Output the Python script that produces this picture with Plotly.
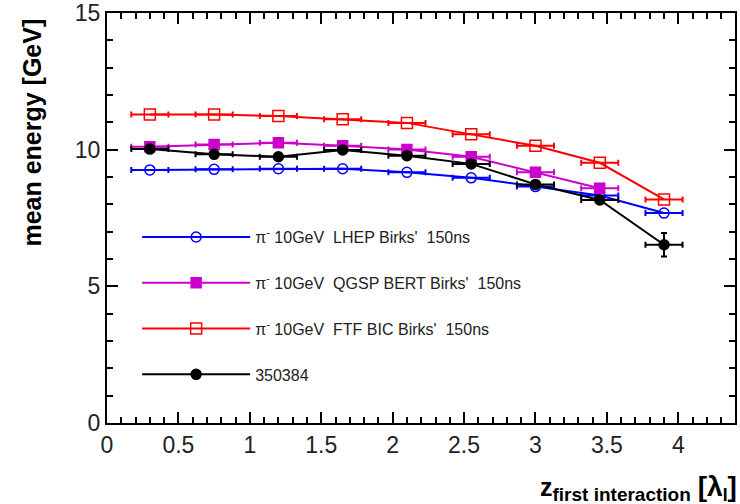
import plotly.graph_objects as go

# ---- data ----
z_first = [0.3, 0.75, 1.2, 1.65, 2.1, 2.55, 3.0, 3.45, 3.9]
z_err = [0.13] * 9

lhep = [9.26, 9.28, 9.30, 9.30, 9.17, 8.97, 8.65, 8.32, 7.68]
qgsp_bert = [10.11, 10.19, 10.25, 10.14, 10.01, 9.74, 9.17, 8.59]
ftf_bic = [11.29, 11.29, 11.23, 11.11, 10.98, 10.56, 10.14, 9.52, 8.18]
run_350384 = [10.02, 9.83, 9.74, 9.99, 9.78, 9.48, 8.73, 8.16, 6.52]
run_350384_err = [0.04, 0.04, 0.04, 0.05, 0.05, 0.06, 0.08, 0.12, 0.43]

names = [
    "π<sup>-</sup> 10GeV\u00a0\u00a0LHEP Birks'\u00a0\u00a0150ns",
    "π<sup>-</sup> 10GeV\u00a0\u00a0QGSP BERT Birks'\u00a0\u00a0150ns",
    "π<sup>-</sup> 10GeV\u00a0\u00a0FTF BIC Birks'\u00a0\u00a0150ns",
    "350384",
]

FONT = "Liberation Sans, Arial, Helvetica, sans-serif"

fig = go.Figure()

def add(y, name, color, symbol, size, yerr=None):
    n = len(y)
    fig.add_trace(go.Scatter(
        x=z_first[:n], y=y, name=name, mode="lines+markers",
        legendgroup=name,
        line=dict(color=color, width=2),
        marker=dict(color=color, symbol=symbol, size=size,
                    line=dict(color=color, width=1.5)),
        error_x=dict(type="data", array=z_err[:n], color=color,
                     thickness=2, width=3),
        error_y=(dict(type="data", array=yerr, color=color, thickness=2, width=3)
                 if yerr is not None else None),
    ))

add(lhep, names[0], "#0000FF", "circle-open", 10)
add(qgsp_bert, names[1], "#CC00CC", "square", 10)
add(ftf_bic, names[2], "#FF0000", "square-open", 11)
add(run_350384, names[3], "#000000", "circle", 10, run_350384_err)

axis_common = dict(
    showline=True, linecolor="black", linewidth=2, mirror="ticks",
    ticks="inside", tickcolor="black", tickwidth=2, ticklen=11,
    showgrid=False, zeroline=False, ticklabeloverflow="allow",
    automargin=False,
    tickfont=dict(family=FONT, size=23, color="#222"),
)

fig.update_layout(
    width=740, height=504,
    margin=dict(l=107, r=5, t=13, b=81, autoexpand=False),
    paper_bgcolor="white", plot_bgcolor="white",
    font=dict(family=FONT, color="black"),
    xaxis=dict(range=[0, 4.397], dtick=0.5, tick0=0,
               minor=dict(dtick=0.1, ticks="inside", ticklen=6,
                          tickcolor="black", tickwidth=2, showgrid=False),
               **axis_common),
    yaxis=dict(range=[0, 15], dtick=5, tick0=0,
               minor=dict(dtick=1, ticks="inside", ticklen=6,
                          tickcolor="black", tickwidth=2, showgrid=False),
               **axis_common),
    showlegend=True,
    legend=dict(x=0.048, y=0.495, xanchor="left", yanchor="top",
                bgcolor="rgba(0,0,0,0)", borderwidth=0,
                font=dict(family=FONT, size=16, color="#222"),
                itemwidth=108, tracegroupgap=22, traceorder="grouped"),
    annotations=[
        dict(text="<b>mean energy [GeV]</b>", textangle=-90,
             xref="paper", yref="paper", x=-0.119, y=0.709,
             xanchor="center", yanchor="middle", showarrow=False,
             font=dict(family=FONT, size=25, color="black")),
        dict(text="<b>z<sub><span style='font-size:19px'>first interaction</span></sub>"
                  " <span style='font-size:28px'>[λ</span><sub>I</sub>"
                  "<span style='font-size:28px'>]</span></b>",
             xref="paper", yref="paper", x=1.006, y=-0.158,
             xanchor="right", yanchor="middle", showarrow=False,
             font=dict(family=FONT, size=25, color="black")),
    ],
)

fig.write_html("out.html",
               config={"displayModeBar": False},
               post_script="document.body.style.margin='0';"
                           "document.body.style.overflow='hidden';")
